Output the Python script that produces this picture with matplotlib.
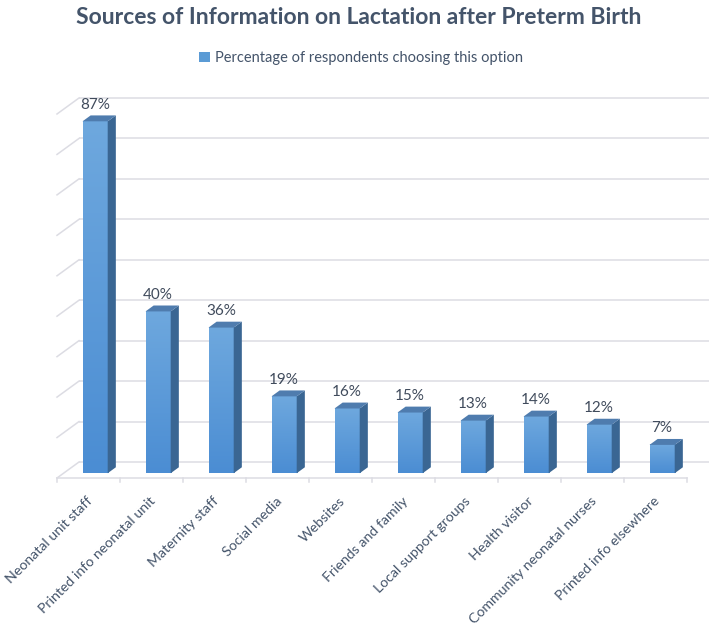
import numpy as np
import matplotlib
matplotlib.use('Agg')
import matplotlib.pyplot as plt
from matplotlib.patches import Polygon, Patch
from matplotlib.colors import LinearSegmentedColormap

categories = ["Neonatal unit staff", "Printed info neonatal unit", "Maternity staff",
              "Social media", "Websites", "Friends and family", "Local support groups",
              "Health visitor", "Community neonatal nurses", "Printed info elsewhere"]
values = [87, 40, 36, 19, 16, 15, 13, 14, 12, 7]
value_labels = [f"{v}%" for v in values]
y_ticks = list(range(0, 91, 10))
title = "Sources of Information on Lactation after Preterm Birth"
legend_label = "Percentage of respondents choosing this option"

FONT = ['Lato', 'DejaVu Sans']
plt.rcParams['font.family'] = FONT

W, H = 712, 626
fig = plt.figure(figsize=(W / 100, H / 100), dpi=100)
left_px, right_px, top_px, bottom_px = 40, 712, 90, 485
ax = fig.add_axes([left_px / W, 1 - bottom_px / H,
                   (right_px - left_px) / W, (bottom_px - top_px) / H])
px_x = 1 / 63.0
px_y = 90 / 364.0
x0_px = 79
y0_px = 462
DX = 22 * px_x
DY = 16 * px_y
n = len(categories)

grid_c = '#dcdce3'
# back wall gridlines + left wall slants
for t in y_ticks:
    ax.plot([-0.5, n - 0.5], [t, t], color=grid_c, lw=1.1, zorder=1, solid_capstyle='butt')
    ax.plot([-0.5 - DX, -0.5], [t - DY, t], color=grid_c, lw=1.1, zorder=1)
# floor front edge
ax.plot([-0.5 - DX, n - 0.5 - DX], [-DY, -DY], color=grid_c, lw=1.1, zorder=1)
for k in range(n + 1):
    xk = k - 0.5 - DX
    ax.plot([xk, xk], [-DY, -DY - 4 * px_y], color=grid_c, lw=1.1, zorder=1)

bw = 0.40
d_front, d_back = 0.70, 0.33
front_cmap = LinearSegmentedColormap.from_list('f', ['#6ea8de', '#4b8dd3'])
grad = np.linspace(0, 1, 200).reshape(-1, 1)

def proj(x, y, d):
    return (x - d * DX, y - d * DY)

for i, v in enumerate(values):
    xl, xr = i - bw / 2, i + bw / 2
    # front face
    fl = proj(xl, 0, d_front)
    fr = proj(xr, v, d_front)
    ax.imshow(grad, cmap=front_cmap, extent=[fl[0], fr[0], fl[1], fr[1]],
              origin='upper', aspect='auto', zorder=3, interpolation='bilinear')
    # side face
    side = [proj(xr, 0, d_front), proj(xr, v, d_front), proj(xr, v, d_back), proj(xr, 0, d_back)]
    ax.add_patch(Polygon(side, closed=True, facecolor='#3a6693', edgecolor='none', zorder=3))
    # top face
    top = [proj(xl, v, d_front), proj(xr, v, d_front), proj(xr, v, d_back), proj(xl, v, d_back)]
    ax.add_patch(Polygon(top, closed=True, facecolor='#4f7cae', edgecolor='none', zorder=4))
    # value label
    lx, _ = proj(i, v, d_front)
    ax.text(lx, v + 0.3, value_labels[i], ha='center', va='baseline', fontsize=11,
            color='#404b5c', zorder=5)
    # category label
    cx = i - DX - 2 * px_x
    cy = -DY - 17 * px_y
    ax.text(cx, cy, categories[i], rotation=45, rotation_mode='anchor', ha='right', va='top',
            fontsize=10.2, color='#44546a', clip_on=False)

ax.set_xlim(-0.5 - (x0_px - left_px) * px_x, -0.5 + (right_px - x0_px) * px_x)
ax.set_ylim(-(bottom_px - y0_px) * px_y, (y0_px - top_px) * px_y)
ax.axis('off')

fig.text(358.5 / W, 1 - 24 / H, title, ha='center', va='baseline', fontsize=16.5,
         fontweight='bold', color='#44546a')

handle = Patch(facecolor='#5b9bd5', edgecolor='none')
fig.legend([handle], [legend_label], loc='center', bbox_to_anchor=(361 / W, 1 - 58 / H),
           frameon=False, fontsize=10.5, handlelength=0.75, handleheight=0.75,
           handletextpad=0.4, labelcolor='#44546a')

fig.savefig('out.png', dpi=100)
